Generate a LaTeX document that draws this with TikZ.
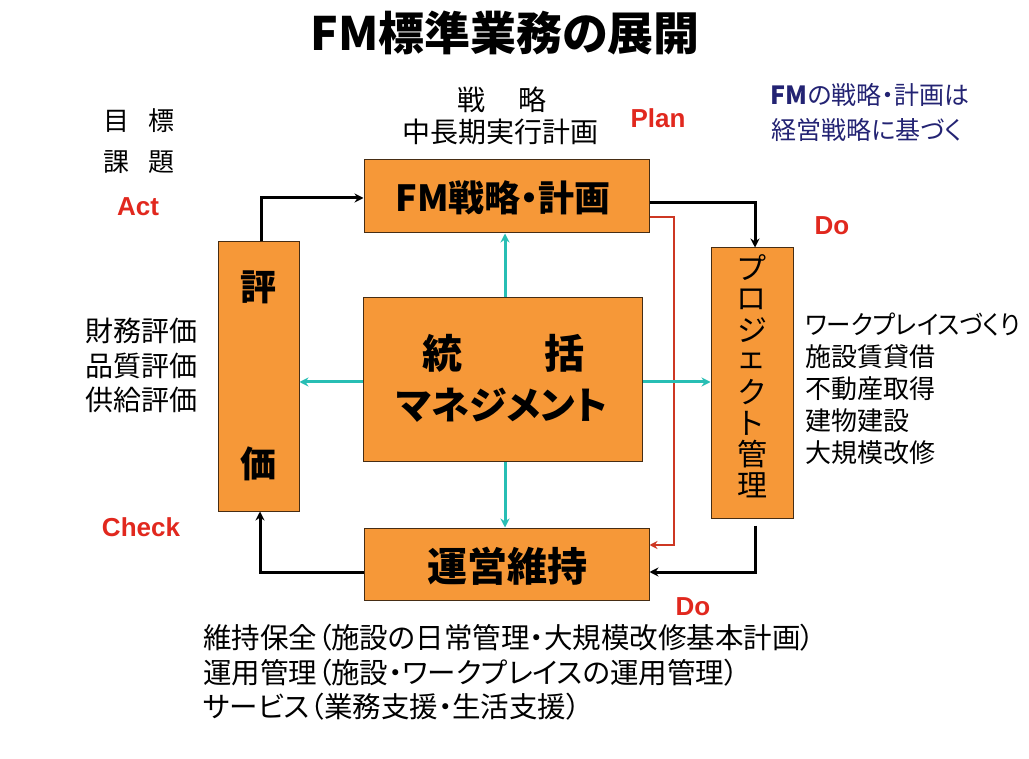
\documentclass[tikz,border=0pt]{standalone}
\usepackage{fontspec}
\usetikzlibrary{arrows.meta,calc}
\newfontfamily\jp{Noto Sans CJK JP}[RawFeature=+palt]
\newfontfamily\lat{Liberation Sans}
\definecolor{boxfill}{RGB}{246,152,56}
\definecolor{boxline}{RGB}{70,45,20}
\definecolor{cyanl}{RGB}{40,190,180}
\definecolor{redl}{RGB}{205,55,35}
\definecolor{pdca}{RGB}{225,40,30}
\definecolor{navy}{RGB}{35,35,115}
\begin{document}
\begin{tikzpicture}[x=1pt,y=-1pt,
  box/.style={draw=boxline, line width=1pt, fill=boxfill, inner sep=0pt},
  boxtxt/.style={inner sep=0pt, font=\jp\bfseries},
  lbl/.style={inner sep=0pt, font=\jp\fontsize{28pt}{35pt}\selectfont},
  rlbl/.style={inner sep=0pt, anchor=west, font=\jp\fontsize{26pt}{32pt}\selectfont},
  pdcalbl/.style={inner sep=0pt, text=pdca, font=\lat\bfseries\fontsize{26pt}{30pt}\selectfont},
  blk/.style={line width=3pt, -{Stealth[length=9pt,width=9pt]}},
  cyn/.style={draw=cyanl, line width=3pt, -{Stealth[length=9pt,width=9pt]}},
  redarr/.style={draw=redl, line width=2pt, -{Stealth[length=8pt,width=8pt]}}
]
\useasboundingbox[fill=white] (0,0) rectangle (1029,759);

% title
\node[inner sep=0pt, font=\jp\bfseries\fontsize{46pt}{50pt}\selectfont] (title) at (505,33) {FM標準業務の展開};

% boxes
\node[box, minimum width=285pt, minimum height=73pt] (fm) at (506.5,196.5) {};
\node[boxtxt, font=\jp\bfseries\fontsize{36pt}{40pt}\selectfont] (fmt) at (503,198) {FM戦略・計画};

\node[box, minimum width=81pt, minimum height=269pt] (hyo) at (258.5,376.5) {};
\node[boxtxt, font=\jp\bfseries\fontsize{36pt}{40pt}\selectfont] (hyo1) at (258,287) {評};
\node[boxtxt, font=\jp\bfseries\fontsize{36pt}{40pt}\selectfont] (hyo2) at (258,464) {価};

\node[box, minimum width=82pt, minimum height=270pt] (pj) at (752,383) {};
\foreach \c [count=\i] in {プ,ロ,ジ,ェ,ク,ト,管,理}
  \node[inner sep=0pt, font=\jp\fontsize{30pt}{32pt}\selectfont] (pj\i) at (752,{268+(\i-1)*31}) {\c};

\node[box, minimum width=279pt, minimum height=164pt] (tok) at (502.5,380) {};
\node[boxtxt, font=\jp\bfseries\fontsize{40pt}{44pt}\selectfont] (tok1) at (503,353) {統\hspace{82pt}括};
\node[boxtxt, font=\jp\bfseries\fontsize{38pt}{44pt}\selectfont] (tok2) at (502,405) {マネジメント};

\node[box, minimum width=285pt, minimum height=72pt] (un) at (506.5,564) {};
\node[boxtxt, font=\jp\bfseries\fontsize{40pt}{44pt}\selectfont] (unt) at (507,566) {運営維持};

% connectors
\draw[blk] ([xshift=2.5pt]hyo.north) |- ([yshift=-1.5pt]fm.west);
\draw[blk] ([yshift=-6.5pt]fm.east) -| ([xshift=3pt]pj.north);
\draw[redarr] ([yshift=-20.5pt]fm.east) -- ++(24,0) |- ([yshift=19pt]un.east);
\coordinate (pjout) at ([xshift=3pt,yshift=-7pt]pj.south);
\draw[blk] (pjout) |- ([yshift=-8pt]un.east);
\draw[blk] ([yshift=-8pt]un.west) -| ([xshift=1.5pt]hyo.south);

\draw[cyn] ([xshift=2.5pt]tok.north) -- ([xshift=2.5pt]tok.north |- fm.south);
\draw[cyn] ([xshift=2.5pt]tok.south) -- ([xshift=2.5pt]tok.south |- un.north);
\draw[cyn] ([yshift=-2pt]tok.west) -- ([yshift=-2pt]tok.west -| hyo.east);
\draw[cyn] ([yshift=-2pt]tok.east) -- ([yshift=-2pt]tok.east -| pj.west);

% top labels
\node[lbl] (senryaku) at (502,100) {戦\hspace{34pt}略};
\node[lbl] (chuchoki) at (500,132) {中長期実行計画};
\node[pdcalbl] (plan) at (658,118) {Plan};
\node[inner sep=0pt, text=navy, font=\jp\fontsize{25pt}{30pt}\selectfont] (note1) at (870,95) {\textbf{FM}の戦略・計画は};
\node[inner sep=0pt, text=navy, font=\jp\fontsize{25pt}{30pt}\selectfont] (note2) at (867,130) {経営戦略に基づく};

% left labels
\node[lbl, font=\jp\fontsize{26pt}{30pt}\selectfont] (mokuhyo) at (139,121) {目\hspace{20pt}標};
\node[lbl, font=\jp\fontsize{26pt}{30pt}\selectfont] (kadai) at (139,162) {課\hspace{20pt}題};
\node[pdcalbl] (act) at (138,207) {Act};
\node[lbl] (zaimu) at (141,331) {財務評価};
\node[lbl] (hinshitsu) at (141,366) {品質評価};
\node[lbl] (kyokyu) at (141,400) {供給評価};
\node[pdcalbl] (check) at (141,527) {Check};

% right labels
\node[pdcalbl] (do1) at (832,226) {Do};
\node[rlbl] (r1) at (805,325) {\scalebox{0.94}[1]{ワークプレイスづくり}};
\node[rlbl] (r2) at (805,357) {施設賃貸借};
\node[rlbl] (r3) at (805,389) {不動産取得};
\node[rlbl] (r4) at (805,421) {建物建設};
\node[rlbl] (r5) at (805,453) {大規模改修};

% bottom labels
\node[pdcalbl] (do2) at (693,607) {Do};
\node[lbl, anchor=west, font=\jp\fontsize{28.5pt}{35pt}\selectfont] (b1) at (203,638) {維持保全（施設の日常管理・大規模改修基本計画）};
\node[lbl, anchor=west, font=\jp\fontsize{28.5pt}{35pt}\selectfont] (b2) at (203,673) {運用管理（施設・ワークプレイスの運用管理）};
\node[lbl, anchor=west, font=\jp\fontsize{28.5pt}{35pt}\selectfont] (b3) at (203,707) {サービス（業務支援・生活支援）};
\end{tikzpicture}
\end{document}
